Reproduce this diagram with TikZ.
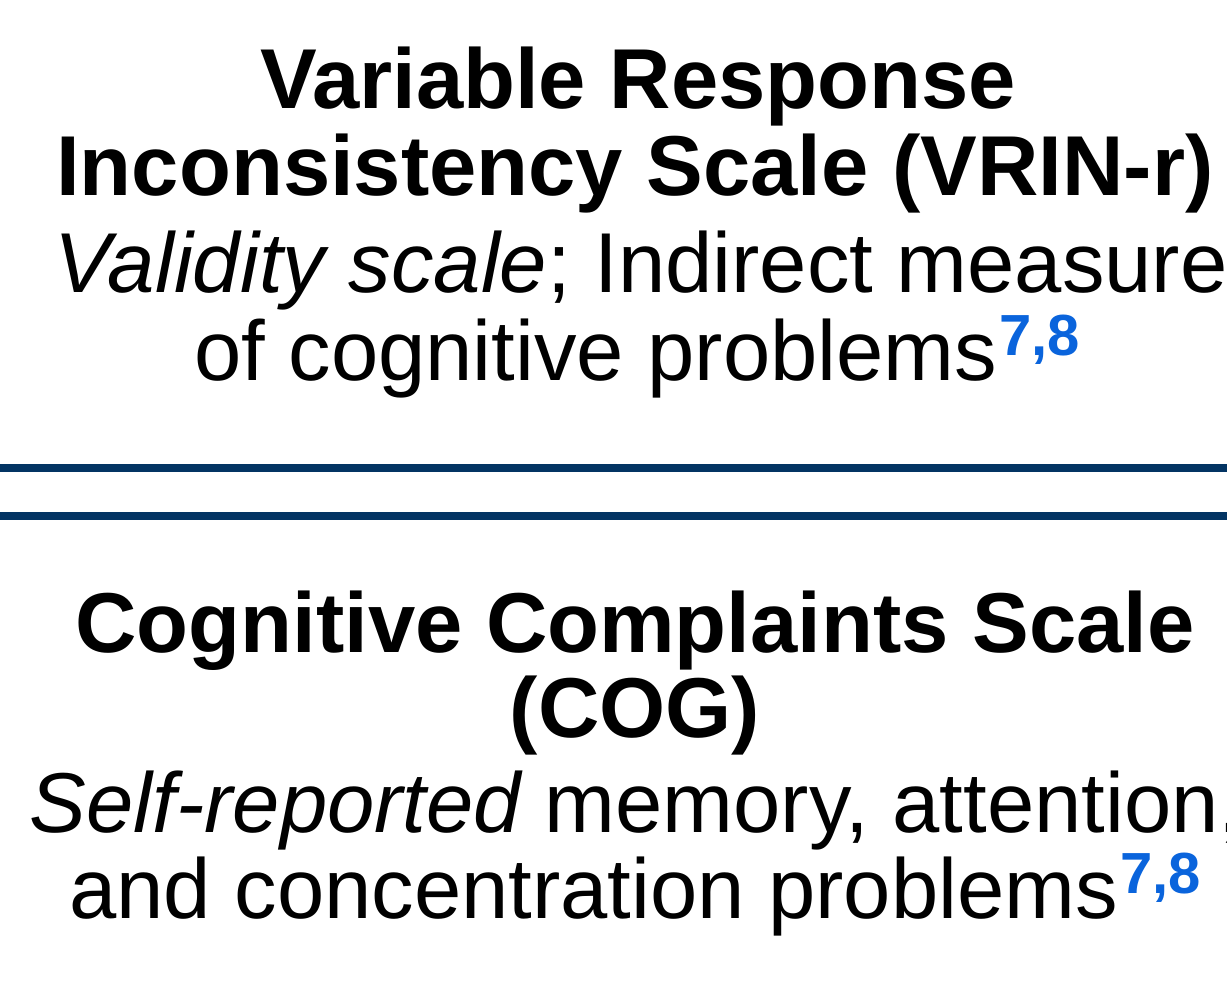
\documentclass[tikz,border=0pt]{standalone}
\usepackage{fontspec}
\setmainfont{Liberation Sans}
\definecolor{navy}{RGB}{3,52,99}
\definecolor{refblue}{RGB}{10,100,220}
\newcommand{\refsup}[1]{\hspace{2pt}\raisebox{25pt}{\fontsize{58}{58}\selectfont\bfseries\color{refblue}#1}}
\tikzset{
  title/.style={anchor=base,inner sep=0pt,font=\fontsize{85}{85}\selectfont\bfseries},
  body/.style={anchor=base,inner sep=0pt,font=\fontsize{85}{85}\selectfont},
  rule/.style={draw=navy,line width=8pt}
}
\begin{document}
\begin{tikzpicture}[x=1pt,y=1pt]
\useasboundingbox (0,0) rectangle (1227,-989);
\clip (0,0) rectangle (1227,-989);
\node[title] (t1) at (638,-108) {Variable Response};
\node[title] (t2) at (635,-195) {Inconsistency Scale (VRIN-r)};
\node[body] (b1) at (641,-292) {\itshape Validity scale\upshape; Indirect measure};
\node[body] (b2) at (637,-380) {of cognitive problems\refsup{7,8}};
\coordinate (l1a) at (0,-468);
\coordinate (l1b) at (1227,-468);
\coordinate (l2a) at (0,-515.5);
\coordinate (l2b) at (1227,-515.5);
\draw[rule] (l1a) -- (l1b);
\draw[rule] (l2a) -- (l2b);
\node[title] (t3) at (635,-652) {Cognitive Complaints Scale};
\node[title] (t4) at (635,-737) {(COG)};
\node[body] (b3) at (636,-832) {\itshape Self-reported\upshape{} memory, attention,};
\node[body] (b4) at (635,-918) {and concentration problems\refsup{7,8}};
\end{tikzpicture}
\end{document}
